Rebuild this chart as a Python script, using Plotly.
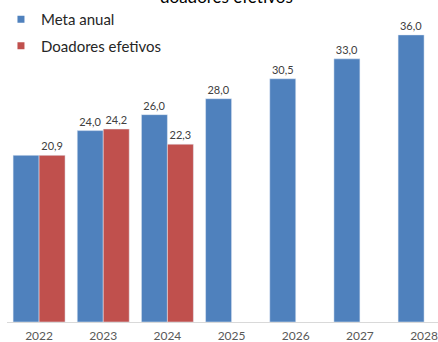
import plotly.graph_objects as go

years = ["2022", "2023", "2024", "2025", "2026", "2027", "2028"]
meta_anual = [20.9, 24.0, 26.0, 28.0, 30.5, 33.0, 36.0]
doadores_efetivos = [20.9, 24.2, 22.3, None, None, None, None]
title_text = "doadores efetivos"

def fmt(v):
    return "" if v is None else f"{v:.1f}".replace(".", ",")

blue = "#4F81BD"
red = "#C0504D"
font_family = "Lato, 'Open Sans', sans-serif"

meta_text = [fmt(v) for v in meta_anual]
meta_text[0] = ""  # overlapping label shown once
doad_text = [fmt(v) for v in doadores_efetivos]

fig = go.Figure()
fig.add_trace(go.Bar(x=years, y=meta_anual, name="Meta anual", marker_color=blue,
                     text=meta_text, textposition="outside", cliponaxis=False,
                     textfont=dict(size=11, color="#404040"), showlegend=False))
fig.add_trace(go.Bar(x=years, y=doadores_efetivos, name="Doadores efetivos", marker_color=red,
                     text=doad_text, textposition="outside", cliponaxis=False,
                     textfont=dict(size=11, color="#404040"), showlegend=False))
# legend entries with small square markers
fig.add_trace(go.Scatter(x=[None], y=[None], mode="markers", name="Meta anual",
                         marker=dict(symbol="square", size=7, color=blue), legendgroup="a"))
fig.add_trace(go.Scatter(x=[None], y=[None], mode="markers", name="Doadores efetivos",
                         marker=dict(symbol="square", size=7, color=red), legendgroup="b"))

fig.update_layout(
    width=438, height=342,
    margin=dict(l=7, r=0, t=3, b=20),
    paper_bgcolor="white", plot_bgcolor="white",
    barmode="group", bargap=0.19, bargroupgap=0,
    font=dict(family=font_family, color="#595959"),
    showlegend=True,
    legend=dict(x=-0.014, y=1.0, xanchor="left", yanchor="top",
                font=dict(size=15, color="#262626"), bgcolor="rgba(0,0,0,0)",
                tracegroupgap=4),
    xaxis=dict(type="category", range=[-0.5, 6.217], showgrid=False, automargin=False,
               showline=True, linecolor="#D9D9D9", linewidth=1,
               ticks="", ticklabelstandoff=3, tickfont=dict(size=12, color="#595959")),
    yaxis=dict(range=[0, 40], visible=False),
    annotations=[dict(text=title_text, xref="paper", yref="paper", x=0.51, y=1.0,
                      xanchor="center", yanchor="bottom", yshift=-6, showarrow=False,
                      font=dict(size=17, color="#000000"))],
)

fig.write_html("out.html", config={"displayModeBar": False},
               post_script="document.body.style.margin='0';document.body.style.overflow='hidden';")
